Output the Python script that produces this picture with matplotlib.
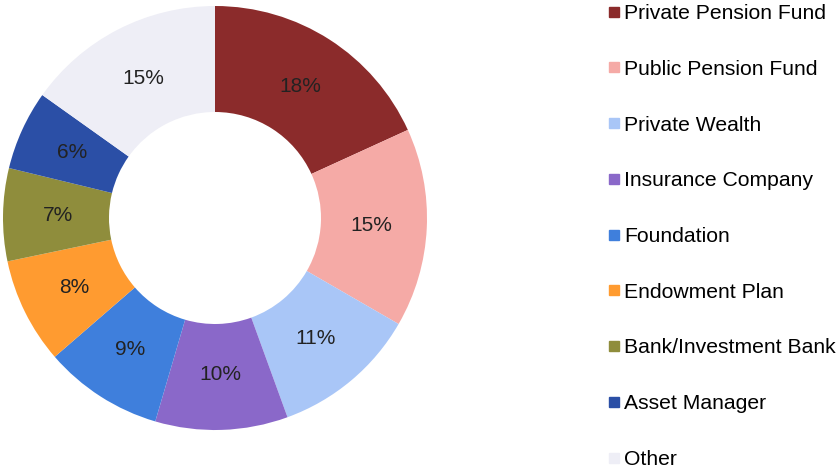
import matplotlib.pyplot as plt
from matplotlib.lines import Line2D
import numpy as np

plt.rcParams['font.family'] = ['Liberation Sans', 'DejaVu Sans']

categorias = ['Private Pension Fund', 'Public Pension Fund', 'Private Wealth',
              'Insurance Company', 'Foundation', 'Endowment Plan',
              'Bank/Investment Bank', 'Asset Manager', 'Other']
valores = [18, 15, 11, 10, 9, 8, 7, 6, 15]
colores = ['#8b2b2b', '#f5aaa6', '#a9c6f7', '#8a68c9', '#3f7fdc',
           '#ff9b30', '#8f8d3c', '#2b4fa6', '#eeeef6']

fig = plt.figure(figsize=(8.38, 4.74), dpi=100)
ax = fig.add_axes([3 / 838, 44 / 474, 424 / 838, 424 / 474])

wedges, _ = ax.pie(valores, colors=colores, startangle=90, counterclock=False,
                   radius=1, wedgeprops=dict(width=0.5, linewidth=0))
ax.set_xlim(-1, 1)
ax.set_ylim(-1, 1)
ax.set_aspect('equal')

# etiquetas de porcentaje en el centro del anillo
for w, v in zip(wedges, valores):
    ang = np.deg2rad((w.theta1 + w.theta2) / 2)
    ax.text(0.74 * np.cos(ang), 0.74 * np.sin(ang), f'{v}%',
            ha='center', va='center', fontsize=15, color='#222222')

handles = [Line2D([], [], marker='s', linestyle='', markersize=7,
                  markerfacecolor=c, markeredgecolor=c) for c in colores]
fig.legend(handles, categorias, loc='upper left',
           bbox_to_anchor=(607 / 838, 1.0 - 3 / 474), frameon=False, fontsize=15.2,
           handlelength=0.6, handletextpad=0.15, labelspacing=1.74,
           borderaxespad=0, borderpad=0.05)

fig.savefig('out.png', dpi=100)
